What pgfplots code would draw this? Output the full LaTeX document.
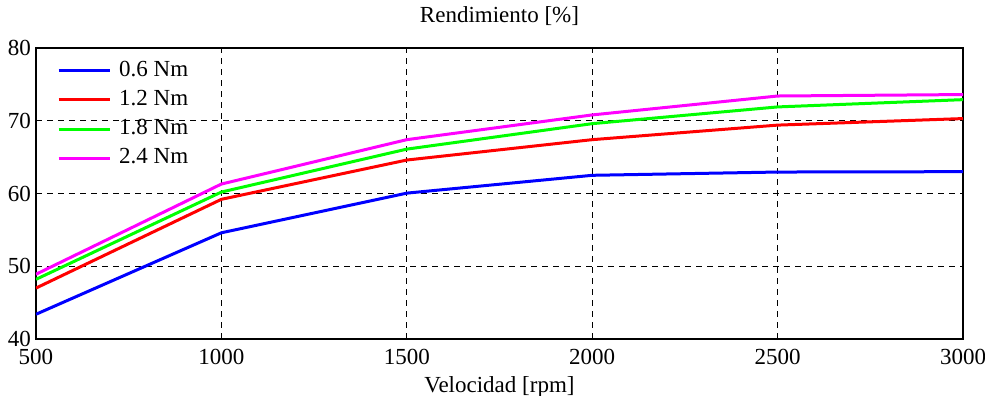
\documentclass[border=0pt]{standalone}
\usepackage{pgfplots}
\pgfplotsset{compat=1.18}
\usepackage{fontspec}
\setmainfont{Liberation Serif}
\definecolor{cblue}{RGB}{0,0,255}
\definecolor{cred}{RGB}{255,0,0}
\definecolor{cgreen}{RGB}{0,255,0}
\definecolor{cmag}{RGB}{255,0,255}
\begin{document}
\fontsize{23}{27}\selectfont
\begin{tikzpicture}[x=1pt,y=1pt]
\useasboundingbox (-36,-57) rectangle (949,339);
\begin{axis}[
  at={(0,0)}, anchor=south west,
  scale only axis,
  width=927pt, height=291pt,
  xmin=500, xmax=3000, ymin=40, ymax=80,
  xtick={500,1000,...,3000}, ytick={40,50,...,80},
  /pgf/number format/assume math mode=true,
  /pgf/number format/1000 sep={},
  tick label style={font=\fontsize{23}{27}\selectfont},
  label style={font=\fontsize{23}{27}\selectfont},
  title style={font=\fontsize{23}{27}\selectfont},
  title={Rendimiento [\%]},
  xlabel={Velocidad [rpm]},
  xlabel style={at={(axis description cs:0.5,0)}, anchor=base, yshift=-53pt, inner sep=0pt},
  title style={at={(axis description cs:0.5,1)}, anchor=base, yshift=19pt, inner sep=0pt},
  xticklabel style={anchor=base, yshift=-26pt, inner sep=0pt},
  yticklabel style={anchor=east, inner sep=0pt, xshift=-5pt},
  grid=major,
  major grid style={black, dash pattern=on 6pt off 5pt, line width=0.9pt},
  axis line style={black, line width=1.4pt},
  major tick length=0pt,
  legend style={draw=none, fill=none, at={(axis description cs:0,1)}, anchor=north west, xshift=21pt, yshift=-12pt, inner sep=0pt, font=\fontsize{23}{27}\selectfont, row sep=8.2pt, column sep=8pt, nodes={inner sep=0pt, text height=16pt, text depth=5pt}},
  legend cell align=left,
  legend image code/.code={\draw[#1] (0pt,0pt) -- (51pt,0pt);},
  every axis plot/.append style={line width=3pt},
]
\addplot[cblue] coordinates {(500,43.4) (1000,54.6) (1500,60.05) (2000,62.5) (2500,62.95) (3000,63.0)};
\addlegendentry{0.6 Nm}
\addplot[cred] coordinates {(500,47.0) (1000,59.2) (1500,64.6) (2000,67.4) (2500,69.4) (3000,70.3)};
\addlegendentry{1.2 Nm}
\addplot[cgreen] coordinates {(500,48.2) (1000,60.2) (1500,66.1) (2000,69.6) (2500,71.9) (3000,72.9)};
\addlegendentry{1.8 Nm}
\addplot[cmag] coordinates {(500,48.9) (1000,61.3) (1500,67.4) (2000,70.8) (2500,73.4) (3000,73.6)};
\addlegendentry{2.4 Nm}
\end{axis}
\end{tikzpicture}
\end{document}
